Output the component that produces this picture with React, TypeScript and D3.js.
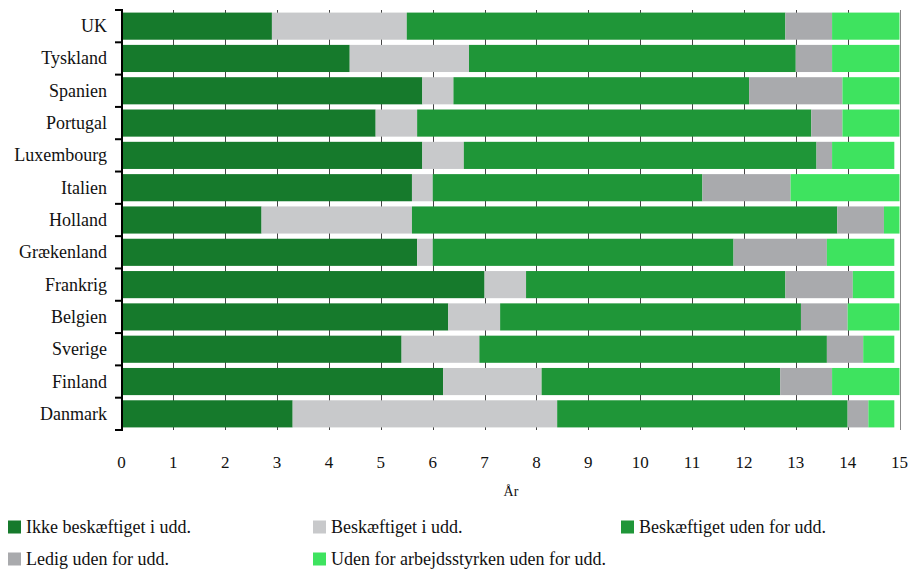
import React from "react";
import * as d3 from "d3";

const countries = ["UK","Tyskland","Spanien","Portugal","Luxembourg","Italien","Holland","Grækenland","Frankrig","Belgien","Sverige","Finland","Danmark"];
const seriesNames = ["Ikke beskæftiget i udd.","Beskæftiget i udd.","Beskæftiget uden for udd.","Ledig uden for udd.","Uden for arbejdsstyrken uden for udd."];
const seriesColors = ["#167a2c","#c8c9cb","#1f9638","#a9aaad","#3ee35f"];
const ikkeBeskaeftigetIUdd = [2.9,4.4,5.8,4.9,5.8,5.6,2.7,5.7,7.0,6.3,5.4,6.2,3.3];
const beskaeftigetIUdd = [2.6,2.3,0.6,0.8,0.8,0.4,2.9,0.3,0.8,1.0,1.5,1.9,5.1];
const beskaeftigetUdenForUdd = [7.3,6.3,5.7,7.6,6.8,5.2,8.2,5.8,5.0,5.8,6.7,4.6,5.6];
const ledigUdenForUdd = [0.9,0.7,1.8,0.6,0.3,1.7,0.9,1.8,1.3,0.9,0.7,1.0,0.4];
const udenForArbejdsstyrken = [1.3,1.3,1.1,1.1,1.2,2.1,0.3,1.3,0.8,1.0,0.6,1.3,0.5];
const xTicks = [0,1,2,3,4,5,6,7,8,9,10,11,12,13,14,15];
const xTitle = "År";

const W = 909, H = 570;
const FONT = "Liberation Serif, DejaVu Serif, serif";

export default function App() {
  const seriesValues = [ikkeBeskaeftigetIUdd, beskaeftigetIUdd, beskaeftigetUdenForUdd, ledigUdenForUdd, udenForArbejdsstyrken];
  const rows = countries.map((c, i) => {
    const o: any = { country: c };
    seriesNames.forEach((s, j) => { o[s] = seriesValues[j][i]; });
    return o;
  });
  const stacked = d3.stack().keys(seriesNames)(rows);
  const x = d3.scaleLinear().domain([0, 15]).range([121.5, 899.5]);
  const y = d3.scaleBand().domain(countries).range([10, 430]).paddingInner(0.16).paddingOuter(0.08);
  const boundaries = d3.range(countries.length + 1).map(i => 10 + i * (420 / countries.length));

  const legendPos = [
    [8, 527], [313, 527], [621, 527],
    [8, 559], [313, 559],
  ];

  return (
    <svg width={W} height={H} style={{ display: "block", position: "absolute", left: 0, top: 0 }}>
      {xTicks.map(t => (
        <line key={"g" + t} x1={Math.round(x(t)) + 0.5} x2={Math.round(x(t)) + 0.5} y1={10} y2={430}
          stroke={t === 15 ? "#888" : "#444"} strokeWidth={1} />
      ))}
      {stacked.map((s, j) => (
        <g key={"s" + j} fill={seriesColors[j]}>
          {s.map((d: any, i) => (
            <rect key={i} x={x(d[0])} width={x(d[1]) - x(d[0])} y={y(countries[i])} height={y.bandwidth()} />
          ))}
        </g>
      ))}
      <line x1={122} x2={122} y1={9} y2={431} stroke="#000" strokeWidth={2} />
      {boundaries.map((b, i) => (
        <line key={"yt" + i} x1={115} x2={122} y1={b} y2={b} stroke="#000" strokeWidth={2} />
      ))}
      {countries.map(c => (
        <text key={c} x={107} y={(y(c) as number) + y.bandwidth() / 2} textAnchor="end" dominantBaseline="central"
          fontFamily={FONT} fontSize={18} fill="#111">{c}</text>
      ))}
      {xTicks.map(t => (
        <text key={"xt" + t} x={x(t)} y={462} textAnchor="middle" dominantBaseline="central" fontFamily={FONT} fontSize={17} fill="#111">{t}</text>
      ))}
      <text x={511} y={491} textAnchor="middle" dominantBaseline="central" fontFamily={FONT} fontSize={14} fill="#111">{xTitle}</text>
      {seriesNames.map((s, j) => (
        <g key={"l" + j}>
          <rect x={legendPos[j][0]} y={legendPos[j][1] - 6.5} width={13} height={13} fill={seriesColors[j]} />
          <text x={legendPos[j][0] + 18} y={legendPos[j][1]} dominantBaseline="central" fontFamily={FONT} fontSize={18} fill="#111">{s}</text>
        </g>
      ))}
    </svg>
  );
}
